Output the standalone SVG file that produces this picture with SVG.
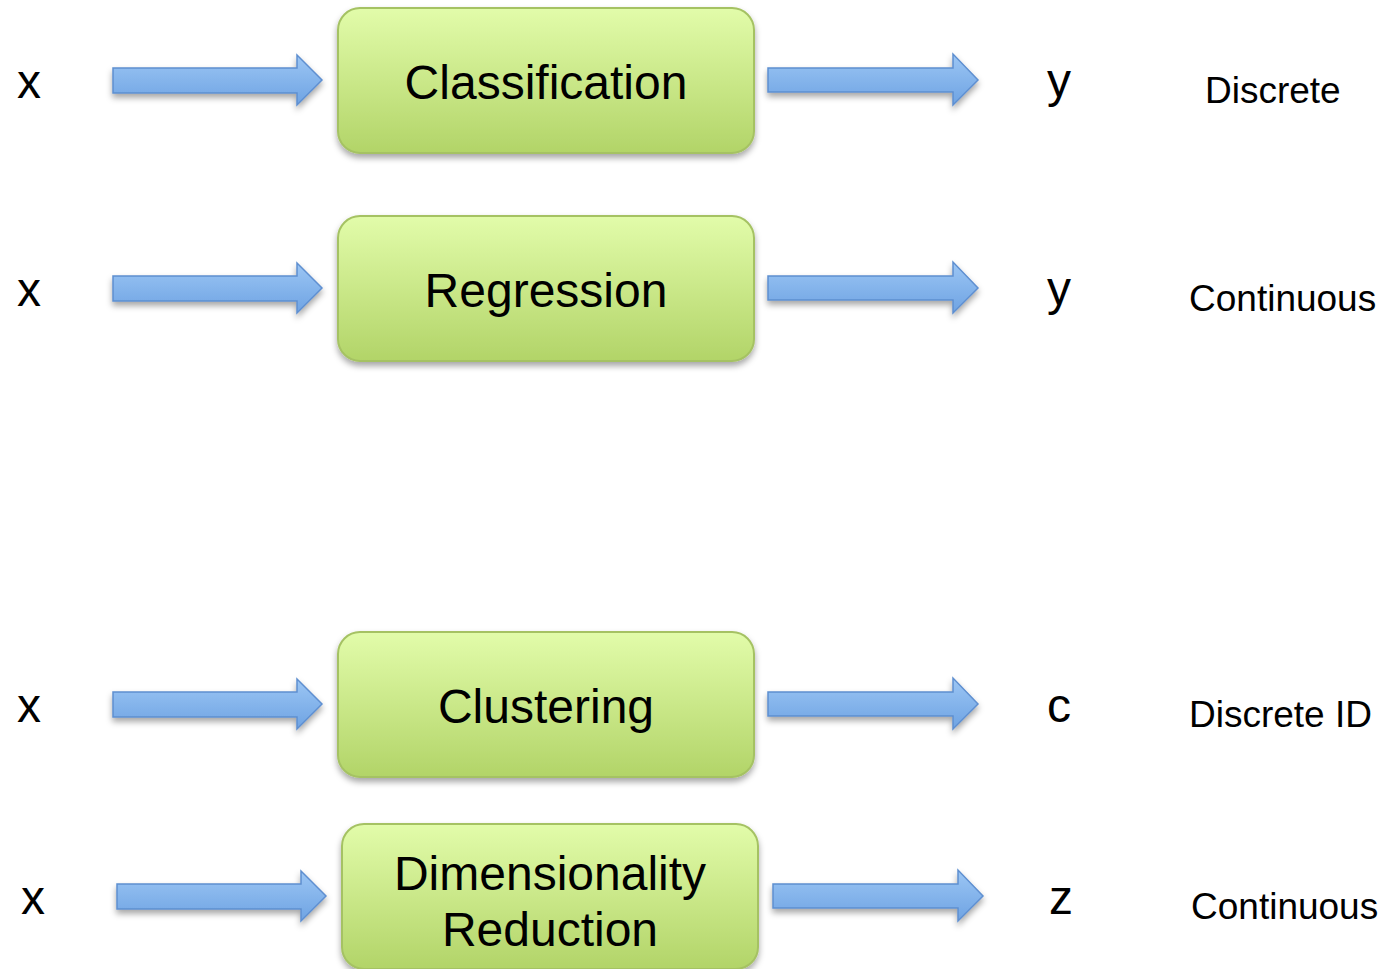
<svg xmlns="http://www.w3.org/2000/svg" width="1393" height="969" viewBox="0 0 1393 969">
<defs>
<linearGradient id="gBox" x1="0" y1="0" x2="0" y2="1">
<stop offset="0" stop-color="#e2fcaa"/>
<stop offset="1" stop-color="#b2d468"/>
</linearGradient>
<linearGradient id="gArr" x1="0" y1="0" x2="0" y2="1">
<stop offset="0" stop-color="#9cc6f4"/>
<stop offset="1" stop-color="#6ea3e3"/>
</linearGradient>
<filter id="sh" x="-10%" y="-10%" width="120%" height="135%">
<feDropShadow dx="0" dy="4" stdDeviation="3" flood-color="#000" flood-opacity="0.35"/>
</filter>
<path id="arrL" d="M113,68 L297,68 L297,55 L322,80 L297,105 L297,93 L113,93 Z"/>
<path id="arrR" d="M768,68 L953,68 L953,54 L978,80 L953,105 L953,92 L768,92 Z"/>
</defs>
<style>
.box{fill:url(#gBox);stroke:#a5c263;stroke-width:2;filter:url(#sh)}
.arr{fill:url(#gArr);stroke:#5e8fd0;stroke-width:1.5;filter:url(#sh)}
text{font-family:"Liberation Sans",Arial,sans-serif;fill:#000}
.big{font-size:48px}
.mid{font-size:37px}
.c{text-anchor:middle}
</style>
<rect width="1393" height="969" fill="#fff"/>
<g id="connectors">
<use href="#arrL" class="arr"/>
<use href="#arrR" class="arr"/>
<use href="#arrL" class="arr" transform="translate(0,208)"/>
<use href="#arrR" class="arr" transform="translate(0,208)"/>
<use href="#arrL" class="arr" transform="translate(0,624)"/>
<use href="#arrR" class="arr" transform="translate(0,624)"/>
<use href="#arrL" class="arr" transform="translate(4,816)"/>
<use href="#arrR" class="arr" transform="translate(5,816)"/>
</g>
<g id="labels">
<text class="big" x="17" y="98">x</text>
<text class="big" x="17" y="306">x</text>
<text class="big" x="17" y="722">x</text>
<text class="big" x="21" y="914">x</text>
<text class="big" x="1047" y="97">y</text>
<text class="big" x="1047" y="305">y</text>
<text class="big" x="1047" y="722">c</text>
<text class="big" x="1049" y="914">z</text>
<text class="mid" x="1205" y="103">Discrete</text>
<text class="mid" x="1189" y="311">Continuous</text>
<text class="mid" x="1189" y="727">Discrete ID</text>
<text class="mid" x="1191" y="919">Continuous</text>
</g>
<g id="classification">
<rect class="box" x="338" y="8" width="416" height="145" rx="22"/>
<text class="big c" x="546" y="99">Classification</text>
</g>
<g id="regression">
<rect class="box" x="338" y="216" width="416" height="145" rx="22"/>
<text class="big c" x="546" y="307">Regression</text>
</g>
<g id="clustering">
<rect class="box" x="338" y="632" width="416" height="145" rx="22"/>
<text class="big c" x="546" y="723">Clustering</text>
</g>
<g id="dimensionality">
<rect class="box" x="342" y="824" width="416" height="145" rx="22"/>
<text class="big c" x="550" y="890">Dimensionality</text>
<text class="big c" x="550" y="946">Reduction</text>
</g>
</svg>
